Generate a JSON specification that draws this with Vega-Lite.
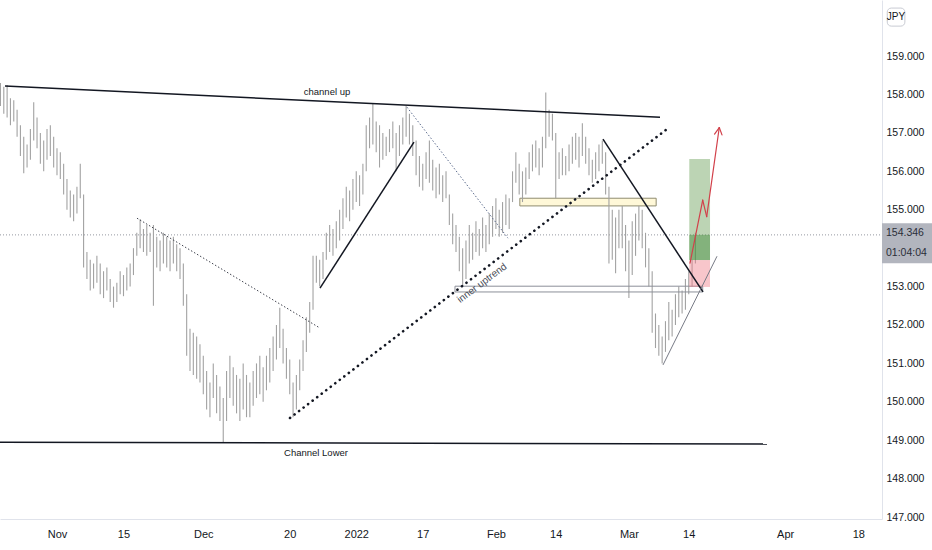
{
  "$schema": "https://vega.github.io/schema/vega-lite/v6.json",
  "width": 882,
  "height": 519,
  "autosize": {"type": "none"},
  "padding": {"left": 0, "top": 0, "right": 50, "bottom": 31},
  "background": "white",
  "config": {
    "view": {"stroke": null},
    "font": "Liberation Sans",
    "axis": {"grid": false, "ticks": false, "domainColor": "#e0e3eb", "domainWidth": 1, "labelColor": "#131722", "labelFont": "Liberation Sans", "labelFontSize": 11, "labelOverlap": false}
  },
  "datasets": {
    "bars": [
      {"d":-8.5,"h":158.30,"p":157.70},{"d":-8.0,"h":158.20,"p":157.50},{"d":-7.5,"h":158.25,"p":157.40},{"d":-7.0,"h":157.90,"p":157.20},{"d":-6.5,"h":157.85,"p":157.30},
      {"d":-6.0,"h":157.60,"p":156.90},{"d":-5.5,"h":157.20,"p":156.40},{"d":-5.0,"h":156.90,"p":155.95},{"d":-4.5,"h":156.70,"p":156.10},{"d":-4.0,"h":157.10,"p":156.30},
      {"d":-3.5,"h":157.80,"p":156.80},{"d":-3.0,"h":157.40,"p":156.60},{"d":-2.5,"h":157.00,"p":156.20},{"d":-2.0,"h":156.80,"p":156.00},{"d":-1.5,"h":157.10,"p":156.30},
      {"d":-1.0,"h":157.20,"p":156.40},{"d":-0.5,"h":156.90,"p":156.10},{"d":0.0,"h":156.60,"p":155.90},{"d":0.5,"h":156.50,"p":155.80},{"d":1.0,"h":156.20,"p":155.40},
      {"d":1.5,"h":155.80,"p":155.00},{"d":2.0,"h":155.50,"p":154.80},{"d":2.5,"h":155.40,"p":154.70},{"d":3.0,"h":155.60,"p":154.90},{"d":3.5,"h":156.20,"p":155.30},
      {"d":4.0,"h":155.40,"p":153.50},{"d":4.5,"h":153.90,"p":153.20},{"d":5.0,"h":153.70,"p":152.90},{"d":5.5,"h":153.60,"p":152.95},{"d":6.0,"h":153.80,"p":153.10},
      {"d":6.5,"h":153.60,"p":152.80},{"d":7.0,"h":153.40,"p":152.70},{"d":7.5,"h":153.50,"p":152.90},{"d":8.0,"h":153.20,"p":152.60},{"d":8.5,"h":153.00,"p":152.45},
      {"d":9.0,"h":153.10,"p":152.60},{"d":9.5,"h":153.40,"p":152.80},{"d":10.0,"h":153.30,"p":152.75},{"d":10.5,"h":153.50,"p":152.90},{"d":11.0,"h":153.60,"p":153.00},
      {"d":11.5,"h":154.00,"p":153.30},{"d":12.0,"h":154.40,"p":153.80},{"d":12.5,"h":154.75,"p":154.00},{"d":13.0,"h":154.50,"p":153.90},{"d":13.5,"h":154.60,"p":153.80},
      {"d":14.0,"h":154.40,"p":153.90},{"d":14.5,"h":154.60,"p":152.50},{"d":15.0,"h":154.30,"p":153.50},{"d":15.5,"h":154.20,"p":153.40},{"d":16.0,"h":154.40,"p":153.60},
      {"d":16.5,"h":154.30,"p":153.50},{"d":17.0,"h":154.20,"p":153.40},{"d":17.5,"h":154.30,"p":153.60},{"d":18.0,"h":154.10,"p":153.40},{"d":18.5,"h":154.00,"p":153.20},
      {"d":19.0,"h":153.60,"p":152.50},{"d":19.5,"h":152.80,"p":151.20},{"d":20.0,"h":151.90,"p":150.80},{"d":20.5,"h":151.80,"p":150.70},{"d":21.0,"h":151.70,"p":150.60},
      {"d":21.5,"h":151.50,"p":150.50},{"d":22.0,"h":151.20,"p":150.20},{"d":22.5,"h":150.80,"p":149.80},{"d":23.0,"h":150.50,"p":149.60},{"d":23.5,"h":151.00,"p":150.10},
      {"d":24.0,"h":150.70,"p":149.70},{"d":24.5,"h":150.40,"p":149.50},{"d":25.0,"h":150.10,"p":148.95},{"d":25.5,"h":150.80,"p":149.50},{"d":26.0,"h":151.20,"p":150.10},
      {"d":26.5,"h":150.90,"p":149.90},{"d":27.0,"h":150.70,"p":149.70},{"d":27.5,"h":150.60,"p":149.50},{"d":28.0,"h":151.00,"p":149.80},{"d":28.5,"h":150.70,"p":149.60},
      {"d":29.0,"h":150.50,"p":149.60},{"d":29.5,"h":150.80,"p":149.90},{"d":30.0,"h":151.00,"p":150.10},{"d":30.5,"h":151.20,"p":150.20},{"d":31.0,"h":150.90,"p":150.00},
      {"d":31.5,"h":151.20,"p":150.30},{"d":32.0,"h":151.40,"p":150.50},{"d":32.5,"h":151.70,"p":150.80},{"d":33.0,"h":152.00,"p":151.10},{"d":33.5,"h":152.45,"p":151.40},
      {"d":34.0,"h":151.90,"p":151.00},{"d":34.5,"h":151.40,"p":150.60},{"d":35.0,"h":151.10,"p":150.20},{"d":35.5,"h":150.50,"p":149.60},{"d":36.0,"h":150.70,"p":149.80},
      {"d":36.5,"h":151.10,"p":150.30},{"d":37.0,"h":151.60,"p":150.80},{"d":37.5,"h":152.20,"p":151.30},{"d":38.0,"h":152.60,"p":151.80},{"d":38.5,"h":153.80,"p":152.40},
      {"d":39.0,"h":153.80,"p":153.10},{"d":39.5,"h":153.70,"p":153.00},{"d":40.0,"h":153.90,"p":153.20},{"d":40.5,"h":154.40,"p":153.70},{"d":41.0,"h":154.60,"p":153.90},
      {"d":41.5,"h":154.50,"p":153.80},{"d":42.0,"h":154.70,"p":154.00},{"d":42.5,"h":155.00,"p":154.20},{"d":43.0,"h":155.30,"p":154.50},{"d":43.5,"h":155.60,"p":154.80},
      {"d":44.0,"h":155.50,"p":154.70},{"d":44.5,"h":155.80,"p":155.00},{"d":45.0,"h":156.00,"p":155.20},{"d":45.5,"h":155.90,"p":155.10},{"d":46.0,"h":156.20,"p":155.40},
      {"d":46.5,"h":157.20,"p":156.00},{"d":47.0,"h":157.40,"p":156.60},{"d":47.5,"h":157.75,"p":156.70},{"d":48.0,"h":157.30,"p":156.50},{"d":48.5,"h":157.20,"p":156.10},
      {"d":49.0,"h":157.00,"p":156.30},{"d":49.5,"h":156.90,"p":156.40},{"d":50.0,"h":157.10,"p":156.50},{"d":50.5,"h":157.30,"p":156.60},{"d":51.0,"h":157.00,"p":156.00},
      {"d":51.5,"h":157.20,"p":156.40},{"d":52.0,"h":157.40,"p":156.70},{"d":52.5,"h":157.70,"p":156.90},{"d":53.0,"h":157.50,"p":156.70},{"d":53.5,"h":157.20,"p":156.40},
      {"d":54.0,"h":156.80,"p":155.90},{"d":54.5,"h":156.40,"p":155.60},{"d":55.0,"h":156.20,"p":155.50},{"d":55.5,"h":156.50,"p":155.80},{"d":56.0,"h":156.80,"p":155.70},
      {"d":56.5,"h":156.30,"p":155.50},{"d":57.0,"h":156.10,"p":155.30},{"d":57.5,"h":156.20,"p":155.40},{"d":58.0,"h":155.90,"p":155.20},{"d":58.5,"h":156.00,"p":155.30},
      {"d":59.0,"h":155.40,"p":154.60},{"d":59.5,"h":154.90,"p":154.10},{"d":60.0,"h":154.60,"p":153.90},{"d":60.5,"h":154.30,"p":153.40},{"d":61.0,"h":154.00,"p":153.00},
      {"d":61.5,"h":154.20,"p":153.20},{"d":62.0,"h":154.60,"p":153.60},{"d":62.5,"h":154.40,"p":153.70},{"d":63.0,"h":154.70,"p":153.90},{"d":63.5,"h":154.50,"p":153.80},
      {"d":64.0,"h":154.80,"p":154.00},{"d":64.5,"h":154.60,"p":153.90},{"d":65.0,"h":154.90,"p":154.10},{"d":65.5,"h":155.10,"p":154.30},{"d":66.0,"h":155.30,"p":154.50},
      {"d":66.5,"h":155.00,"p":154.30},{"d":67.0,"h":155.20,"p":154.40},{"d":67.5,"h":155.40,"p":154.60},{"d":68.0,"h":155.30,"p":154.50},{"d":68.5,"h":156.00,"p":155.20},
      {"d":69.0,"h":156.50,"p":155.70},{"d":69.5,"h":156.20,"p":155.40},{"d":70.0,"h":156.00,"p":155.20},{"d":70.5,"h":156.10,"p":155.40},{"d":71.0,"h":156.50,"p":155.80},
      {"d":71.5,"h":156.70,"p":156.00},{"d":72.0,"h":156.80,"p":156.10},{"d":72.5,"h":156.60,"p":155.90},{"d":73.0,"h":156.90,"p":156.10},{"d":73.5,"h":158.05,"p":156.60},
      {"d":74.0,"h":157.60,"p":156.90},{"d":74.5,"h":157.50,"p":156.80},{"d":75.0,"h":157.00,"p":155.30},{"d":75.5,"h":156.50,"p":155.80},{"d":76.0,"h":156.60,"p":155.90},
      {"d":76.5,"h":156.40,"p":155.90},{"d":77.0,"h":156.70,"p":156.00},{"d":77.5,"h":156.90,"p":156.20},{"d":78.0,"h":157.00,"p":156.30},{"d":78.5,"h":156.90,"p":156.10},
      {"d":79.0,"h":157.25,"p":156.40},{"d":79.5,"h":156.90,"p":156.20},{"d":80.0,"h":156.60,"p":155.90},{"d":80.5,"h":156.30,"p":155.70},{"d":81.0,"h":156.50,"p":155.80},
      {"d":81.5,"h":156.70,"p":156.00},{"d":82.0,"h":156.80,"p":156.20},{"d":82.5,"h":156.50,"p":155.40},{"d":83.0,"h":155.60,"p":153.60},{"d":83.5,"h":155.00,"p":153.70},
      {"d":84.0,"h":154.80,"p":153.35},{"d":84.5,"h":155.00,"p":154.00},{"d":85.0,"h":155.10,"p":154.00},{"d":85.5,"h":154.60,"p":153.40},{"d":86.0,"h":154.20,"p":152.70},
      {"d":86.5,"h":154.70,"p":153.30},{"d":87.0,"h":154.90,"p":153.80},{"d":87.5,"h":155.10,"p":154.20},{"d":88.0,"h":155.00,"p":154.00},{"d":88.5,"h":154.40,"p":153.50},
      {"d":89.0,"h":154.00,"p":153.00},{"d":89.5,"h":153.40,"p":151.80},{"d":90.0,"h":152.30,"p":151.40},{"d":90.5,"h":152.00,"p":151.20},{"d":91.0,"h":151.70,"p":151.00},
      {"d":91.5,"h":152.10,"p":151.30},{"d":92.0,"h":152.60,"p":151.60},{"d":92.5,"h":152.40,"p":151.70},{"d":93.0,"h":152.80,"p":152.00},{"d":93.5,"h":153.00,"p":152.20},
      {"d":94.0,"h":152.90,"p":152.30},{"d":94.5,"h":153.20,"p":152.40},{"d":95.0,"h":153.40,"p":152.80},{"d":95.5,"h":153.70,"p":153.00},{"d":96.0,"h":154.40,"p":153.60}
    ]
  },
  "encoding": {
    "x": {"field": "d", "type": "quantitative", "scale": {"domain": [-8.57, 124.06], "nice": false, "zero": false}, "title": null,
      "axis": {"values": [0, 10, 22, 35, 45, 55, 66, 75, 86, 95, 109.5, 120.5], "labelPadding": 9, "labelBaseline": "top", "labelOverlap": false,
        "labelExpr": "datum.value == 0 ? 'Nov' : datum.value == 10 ? '15' : datum.value == 22 ? 'Dec' : datum.value == 35 ? '20' : datum.value == 45 ? '2022' : datum.value == 55 ? '17' : datum.value == 66 ? 'Feb' : datum.value == 75 ? '14' : datum.value == 86 ? 'Mar' : datum.value == 95 ? '14' : datum.value == 109.5 ? 'Apr' : '18'"}},
    "y": {"field": "p", "type": "quantitative", "scale": {"domain": [146.95, 160.46], "nice": false, "zero": false}, "title": null,
      "axis": {"orient": "right", "values": [147,148,149,150,151,152,153,155,156,157,158,159,160], "format": ".3f", "labelPadding": 4, "labelAlign": "left", "labelBaseline": "middle", "labelFontSize": 10.5, "labelOverlap": false, "labelFlush": false}}
  },
  "layer": [
    {
      "data": {"values": [{"d": -8.57, "d2": 124.06, "p": 154.346}]},
      "mark": {"type": "rule", "color": "#9598a1", "strokeWidth": 1, "strokeDash": [1, 2]},
      "encoding": {"x2": {"field": "d2"}}
    },
    {
      "data": {"values": [{"d": 69.6, "d2": 90.1, "p": 155.30, "p2": 155.10}]},
      "mark": {"type": "rect", "fill": "#fff8d8", "stroke": "#8f8b70", "strokeWidth": 1},
      "encoding": {"x2": {"field": "d2"}, "y2": {"field": "p2"}}
    },
    {
      "data": {"name": "bars"},
      "mark": {"type": "rule", "color": "#a2a2a2", "strokeWidth": 1.1},
      "encoding": {"y2": {"field": "h"}}
    },
    {
      "data": {"values": [{"d": 59.85, "d2": 97.1, "p": 153.01, "p2": 152.86}]},
      "mark": {"type": "rect", "fill": "white", "fillOpacity": 0, "stroke": "#8c8f99", "strokeWidth": 1},
      "encoding": {"x2": {"field": "d2"}, "y2": {"field": "p2"}}
    },
    {
      "data": {"values": [
        {"k": "target", "d": 95.08, "d2": 98.2, "p": 153.69, "p2": 156.32},
        {"k": "profit", "d": 95.08, "d2": 98.2, "p": 153.69, "p2": 154.346},
        {"k": "stop", "d": 95.08, "d2": 98.2, "p": 152.99, "p2": 153.69}
      ]},
      "mark": {"type": "rect", "opacity": 0.45},
      "encoding": {
        "x2": {"field": "d2"}, "y2": {"field": "p2"},
        "color": {"field": "k", "type": "nominal", "legend": null, "scale": {"domain": ["target", "profit", "stop"], "range": ["#6a9f58", "#3f8a38", "#f0808c"]}}
      }
    },
    {
      "data": {"values": [
        {"d": -7.82, "p": 158.22, "d2": 90.68, "p2": 157.41},
        {"d": -8.57, "p": 148.95, "d2": 106.77, "p2": 148.90},
        {"d": 39.55, "p": 152.96, "d2": 53.68, "p2": 156.76},
        {"d": 82.1, "p": 156.84, "d2": 97.14, "p2": 152.86}
      ]},
      "mark": {"type": "rule", "color": "#131722", "strokeWidth": 1.5},
      "encoding": {"x2": {"field": "d2"}, "y2": {"field": "p2"}}
    },
    {
      "data": {"values": [{"d": 12.03, "p": 154.78, "d2": 39.55, "p2": 151.92}]},
      "mark": {"type": "rule", "color": "#434651", "strokeWidth": 1, "strokeDash": [1.5, 2]},
      "encoding": {"x2": {"field": "d2"}, "y2": {"field": "p2"}}
    },
    {
      "data": {"values": [{"d": 52.63, "p": 157.67, "d2": 67.82, "p2": 154.26}]},
      "mark": {"type": "rule", "color": "#5a6a8c", "strokeWidth": 1, "strokeDash": [1.5, 2]},
      "encoding": {"x2": {"field": "d2"}, "y2": {"field": "p2"}}
    },
    {
      "data": {"values": [{"d": 35.04, "p": 149.58, "d2": 91.73, "p2": 157.10}]},
      "mark": {"type": "rule", "color": "#131722", "strokeWidth": 2.6, "strokeCap": "round", "strokeDash": [0.1, 5.6]},
      "encoding": {"x2": {"field": "d2"}, "y2": {"field": "p2"}}
    },
    {
      "data": {"values": [{"d": 91.13, "p": 150.96, "d2": 99.25, "p2": 153.79}]},
      "mark": {"type": "rule", "color": "#787b86", "strokeWidth": 1},
      "encoding": {"x2": {"field": "d2"}, "y2": {"field": "p2"}}
    },
    {
      "data": {"values": [
        {"d": 95.19, "p": 153.61, "d2": 97.10, "p2": 155.25},
        {"d": 97.10, "p": 155.25, "d2": 97.70, "p2": 154.82},
        {"d": 97.70, "p": 154.82, "d2": 99.59, "p2": 157.14},
        {"d": 98.88, "p": 156.97, "d2": 99.59, "p2": 157.14},
        {"d": 100.00, "p": 156.95, "d2": 99.59, "p2": 157.14}
      ]},
      "mark": {"type": "rule", "color": "#d2404a", "strokeWidth": 1.2, "strokeCap": "round"},
      "encoding": {"x2": {"field": "d2"}, "y2": {"field": "p2"}}
    },
    {
      "data": {"values": [
        {"t": "channel up", "d": 40.6, "p": 158.06},
        {"t": "Channel Lower", "d": 38.95, "p": 148.67}
      ]},
      "mark": {"type": "text", "fontSize": 9.5, "color": "#131722", "align": "center", "baseline": "middle"},
      "encoding": {"text": {"field": "t"}}
    },
    {
      "data": {"values": [{"t": "inner uptrend", "d": 63.91, "p": 153.09}]},
      "mark": {"type": "text", "fontSize": 10, "color": "#4a4d57", "align": "center", "baseline": "middle", "angle": 323},
      "encoding": {"text": {"field": "t"}}
    },
    {
      "data": {"values": [{"d": 124.06, "d2": 131.6, "p": 154.65, "p2": 153.61}]},
      "mark": {"type": "rect", "fill": "#b2b5be", "clip": false},
      "encoding": {"x2": {"field": "d2"}, "y2": {"field": "p2"}}
    },
    {
      "data": {"values": [
        {"t": "154.346", "d": 124.66, "p": 154.40},
        {"t": "01:04:04", "d": 124.66, "p": 153.88}
      ]},
      "mark": {"type": "text", "fontSize": 10.5, "color": "#2a2e39", "align": "left", "baseline": "middle", "clip": false},
      "encoding": {"text": {"field": "t"}}
    },
    {
      "data": {"values": [{"d": 127.4, "d2": 131.6, "p": 160.3, "p2": 159.7}]},
      "mark": {"type": "rect", "fill": "white", "clip": false},
      "encoding": {"x2": {"field": "d2"}, "y2": {"field": "p2"}}
    },
    {
      "data": {"values": [{"d": 124.85, "d2": 127.5, "p": 160.25, "p2": 159.78}]},
      "mark": {"type": "rect", "fill": "white", "stroke": "#c8cbd3", "strokeWidth": 1, "cornerRadius": 4, "clip": false},
      "encoding": {"x2": {"field": "d2"}, "y2": {"field": "p2"}}
    },
    {
      "data": {"values": [{"t": "JPY", "d": 126.17, "p": 160.02}]},
      "mark": {"type": "text", "fontSize": 10, "color": "#131722", "align": "center", "baseline": "middle", "clip": false},
      "encoding": {"text": {"field": "t"}}
    }
  ]
}
